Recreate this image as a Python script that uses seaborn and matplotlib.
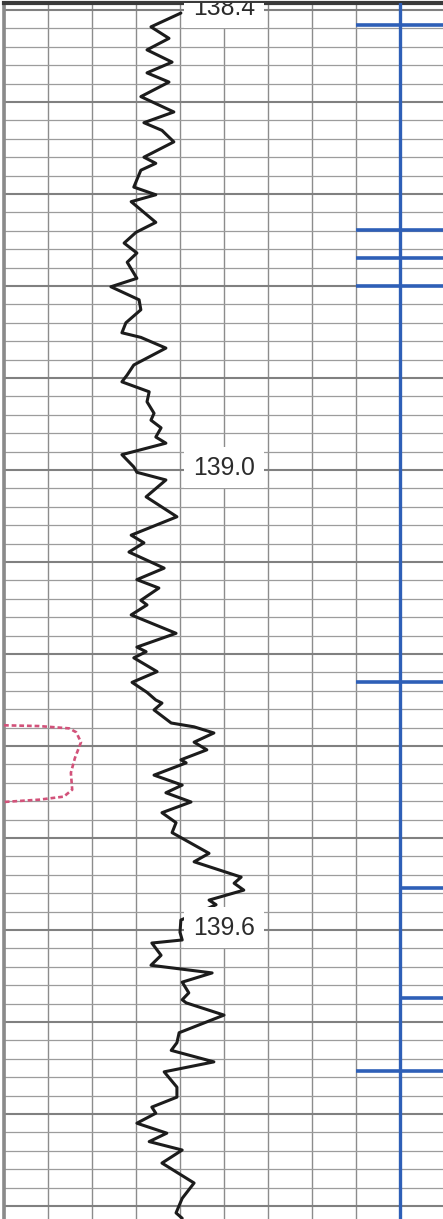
import numpy as np
import pandas as pd
import matplotlib
matplotlib.use("Agg")
import matplotlib.pyplot as plt
import seaborn as sns

# ---- data ----
gr_depth = [138.404, 138.422, 138.437, 138.452, 138.468, 138.482, 138.494, 138.513,
            138.533, 138.547, 138.557, 138.572, 138.592, 138.600, 138.609, 138.631,
            138.641, 138.650, 138.677, 138.690, 138.704, 138.717, 138.729, 138.750,
            138.761, 138.778, 138.791, 138.808, 138.821, 138.827, 138.841, 138.863,
            138.876, 138.885, 138.898, 138.911, 138.926, 138.935, 138.945, 138.957,
            138.965, 138.980, 138.996, 139.003, 139.013, 139.035, 139.061, 139.085,
            139.095, 139.107, 139.128, 139.143, 139.154, 139.170, 139.176, 139.189,
            139.213, 139.231, 139.237, 139.245, 139.263, 139.277, 139.290, 139.300,
            139.304, 139.313, 139.330, 139.335, 139.343, 139.355, 139.365, 139.378,
            139.382, 139.398, 139.411, 139.421, 139.433, 139.447, 139.460, 139.473,
            139.500, 139.511, 139.531, 139.539, 139.548, 139.561, 139.567, 139.578,
            139.587, 139.603, 139.613, 139.617, 139.633, 139.646, 139.656, 139.668,
            139.682, 139.691, 139.695, 139.711, 139.734, 139.747, 139.757, 139.772,
            139.785, 139.805, 139.818, 139.831, 139.839, 139.852, 139.865, 139.876,
            139.887, 139.904, 139.930, 139.950, 139.969, 139.976]
gr_value = [40.2, 33.4, 37.5, 32.5, 38.2, 32.5, 37.5, 31.1,
            38.6, 31.8, 35.9, 38.6, 31.8, 34.5, 31.1, 29.5,
            34.5, 28.9, 34.5, 30.0, 27.3, 30.2, 28.0, 30.2,
            24.3, 30.7, 31.1, 27.7, 26.8, 31.1, 36.8, 29.5,
            28.0, 26.8, 33.0, 32.5, 34.1, 33.4, 35.7, 34.5,
            36.8, 26.8, 29.5, 30.2, 36.8, 32.3, 39.3, 28.9,
            31.8, 28.4, 36.4, 30.2, 35.2, 31.1, 32.5, 28.9,
            39.1, 30.2, 32.3, 29.5, 34.8, 29.1, 32.5, 34.5,
            35.9, 34.1, 38.0, 43.2, 47.7, 43.2, 46.1, 40.2,
            41.4, 34.1, 40.5, 36.8, 42.5, 35.9, 39.1, 38.2,
            46.6, 43.2, 53.9, 52.3, 54.5, 46.6, 48.2, 43.9,
            40.2, 40.0, 40.5, 33.6, 35.7, 33.4, 47.3, 40.5,
            42.0, 40.5, 41.4, 50.0, 39.8, 39.3, 38.0, 47.7,
            36.4, 39.3, 39.3, 33.6, 34.5, 30.2, 37.0, 33.0,
            40.5, 35.9, 43.2, 40.5, 39.1, 40.5]

red_depth = [139.333, 139.334, 139.337, 139.342, 139.355, 139.376, 139.395,
             139.417, 139.426, 139.430, 139.433]
red_value = [0.0, 8.0, 14.8, 16.4, 17.5, 16.1, 15.2, 15.5, 13.6, 8.0, 0.0]

blue_line_value = 90
tick_depths = [138.420, 138.687, 138.723, 138.760, 139.277, 139.545, 139.689, 139.784]
tick_starts = [80, 80, 80, 80, 80, 90, 90, 80]

depth_labels = ["138.4", "139.0", "139.6"]

# ---- figure ----
sns.set_theme(style="white")
plt.rcParams['font.family'] = ['Liberation Sans', 'DejaVu Sans']

W, H = 443, 1219
fig = plt.figure(figsize=(W / 100, H / 100), dpi=100)
L_px, T_px = 4, 3
ax = fig.add_axes([L_px / W, 0, 1 - L_px / W, 1 - T_px / H])

px_per_m = 766.67
d_top = 139.0 - (470 - T_px) / px_per_m
d_bot = 139.0 + (H - 470) / px_per_m
x_max = (W - L_px) / 4.4

# grid
ax.set_xticks(np.arange(0, 101, 10))
ax.set_yticks(np.arange(138.4, 140.0, 0.12))
ax.set_yticks(np.arange(138.4, 140.0, 0.024), minor=True)
ax.grid(True, which="major", axis="x", color="#8c8c8c", linewidth=1.0)
ax.grid(True, which="major", axis="y", color="#808080", linewidth=1.5)
ax.grid(True, which="minor", axis="y", color="#9c9c9c", linewidth=0.9)
ax.set_axisbelow(True)
ax.tick_params(which="both", length=0, labelleft=False, labelbottom=False)

gr = pd.DataFrame({"depth": gr_depth, "value": gr_value})
red = pd.DataFrame({"depth": red_depth, "value": red_value})

sns.lineplot(data=gr, x="value", y="depth", orient="y", sort=False, estimator=None,
             color="#1c1c1c", linewidth=2.2, ax=ax, zorder=3,
             solid_joinstyle="round", solid_capstyle="round")
sns.lineplot(data=red, x="value", y="depth", orient="y", sort=False, estimator=None,
             color="#d2527a", linewidth=1.9, linestyle=(0, (1.8, 1.1)), ax=ax, zorder=3)

# blue track
ax.axvline(blue_line_value, color="#2e5fb7", linewidth=2.4, zorder=4)
ax.hlines(tick_depths, tick_starts, x_max + 2, color="#2e5fb7", linewidth=2.6, zorder=4)

# depth labels
for lab in depth_labels:
    d = float(lab)
    ax.text(50.0, d - 0.003, lab, ha="center", va="center", fontsize=17.8,
            color="#2b2b2b", zorder=5, clip_on=True,
            bbox=dict(boxstyle="square,pad=0.35", facecolor="white", edgecolor="none"))

ax.set_xlim(0, x_max)
ax.set_ylim(d_bot, d_top)
ax.set_xlabel("")
ax.set_ylabel("")
for s in ["right", "bottom"]:
    ax.spines[s].set_visible(False)
ax.spines["top"].set_color("#3a3a3a")
ax.spines["top"].set_linewidth(3.0)
ax.spines["left"].set_color("#8a8a8a")
ax.spines["left"].set_linewidth(2.6)

fig.savefig("out.png", dpi=100)
